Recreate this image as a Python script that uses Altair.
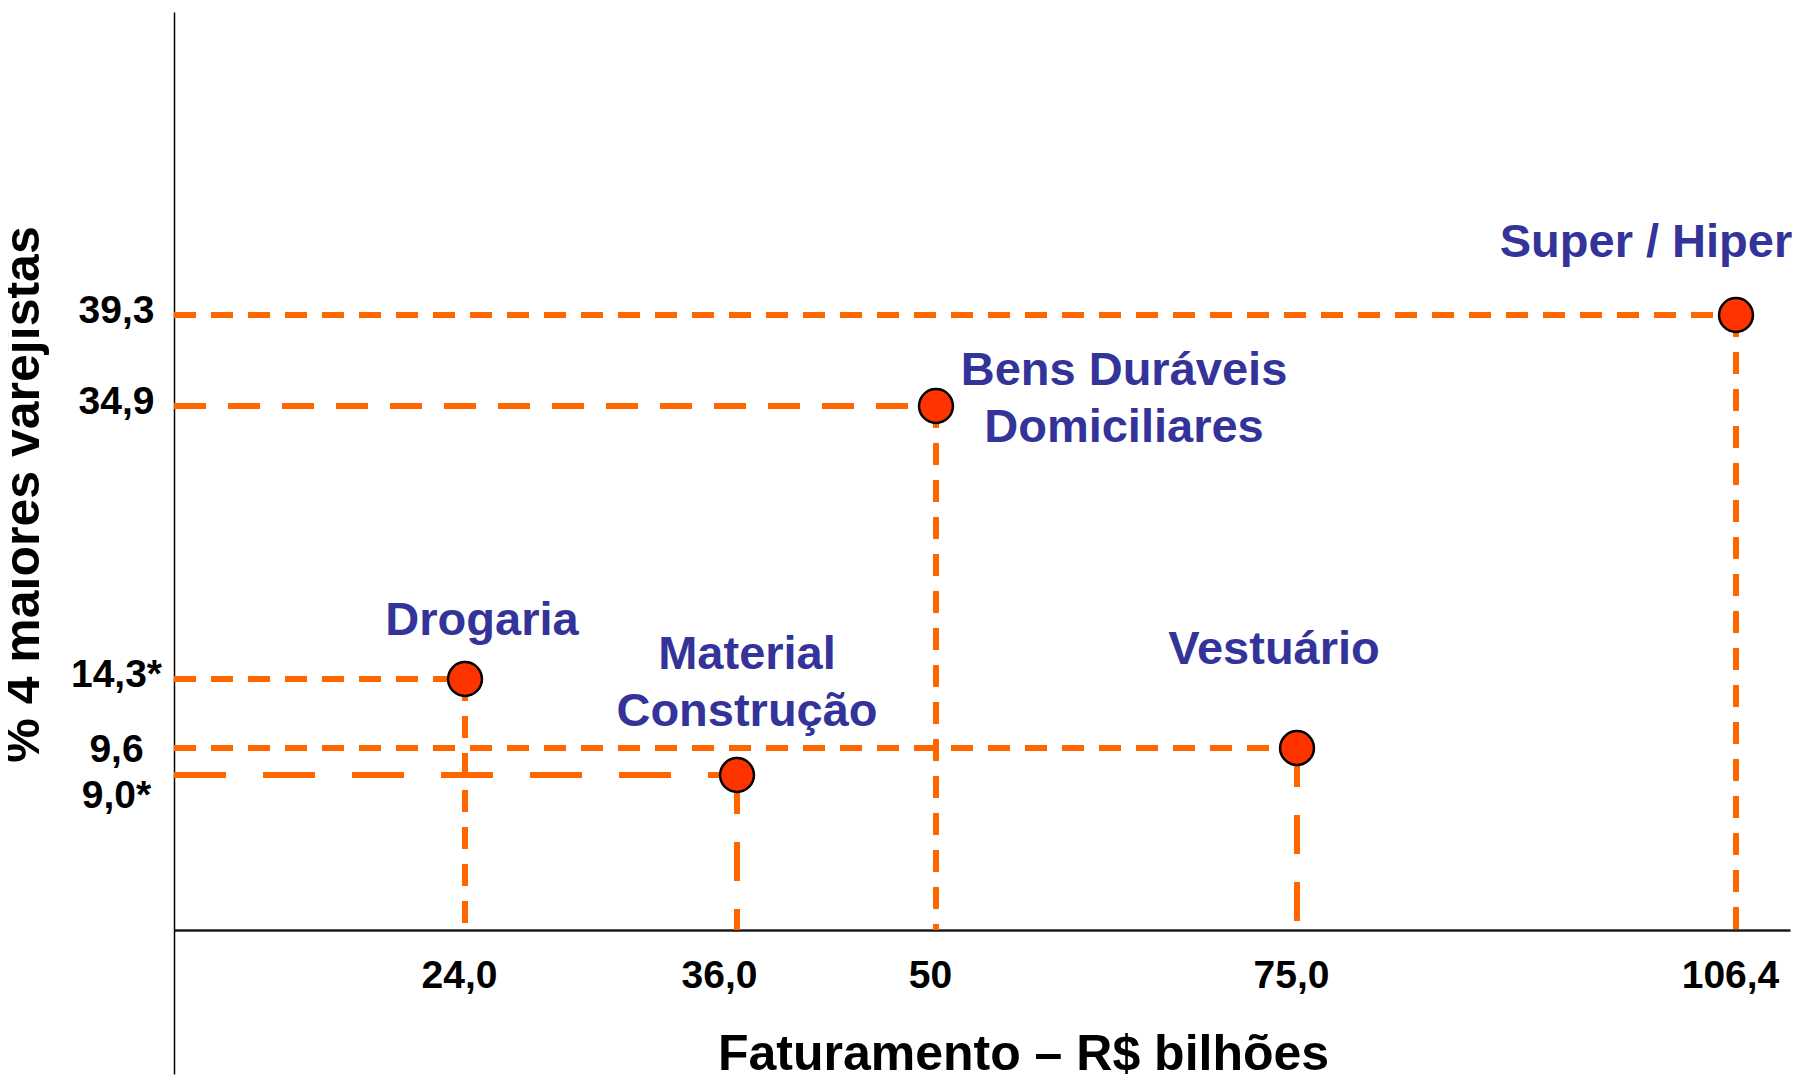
import altair as alt
import pandas as pd

# ---------------- data ----------------
categories = ["Super / Hiper", "Bens Duráveis\nDomiciliares", "Drogaria",
              "Material\nConstrução", "Vestuário"]
faturamento = [106.4, 50.0, 24.0, 36.0, 75.0]      # R$ bilhões
pct_top4 = [39.3, 34.9, 14.3, 9.0, 9.6]             # % 4 maiores varejistas

x_tick_values = [24.0, 36.0, 50.0, 75.0, 106.4]
x_tick_labels = ["24,0", "36,0", "50", "75,0", "106,4"]
y_tick_values = [39.3, 34.9, 14.3, 9.6, 9.0]
y_tick_labels = ["39,3", "34,9", "14,3*", "9,6", "9,0*"]

x_title = "Faturamento – R$ bilhões"
y_title = "% 4 maiores varejistas"

# ---------------- styles / layout ----------------
LINE_COLOR = "#FF6600"
POINT_FILL = "#FF3300"
LABEL_COLOR = "#333399"
FONT = "Liberation Sans"

dash_styles = {"short": [22, 15], "medium": [32, 22], "long": [52, 37], "vlong": [39, 28]}
h_dash = ["short", "medium", "short", "long", "short"]
v_dash = ["short", "short", "short", "vlong", "vlong"]
label_offsets = [(-90, -58), (188, -21), (17, -44), (10, -106), (-23, -84)]

W, H = 1616, 1062
# schematic (piecewise) axes, as in the original slide
x_domain = [0.0, 24.0, 36.0, 50.0, 75.0, 106.4, 110.0]
x_range = [0, 291, 563, 762, 1123, 1562, W]
y_domain = [-8.0, 0.0, 9.0, 9.6, 14.3, 34.9, 39.3, 50.0]
y_range = [H, 918, 763, 736, 667, 394, 303, 0]


def label_expr(values, labels):
    expr = "''"
    for v, l in reversed(list(zip(values, labels))):
        expr = f"abs(datum.value - {v}) < 0.01 ? '{l}' : ({expr})"
    return expr


xscale = alt.Scale(type="linear", domain=x_domain, range=x_range, nice=False, zero=False)
yscale = alt.Scale(type="linear", domain=y_domain, range=y_range, nice=False, zero=False)

xaxis = alt.Axis(
    values=x_tick_values, labelExpr=label_expr(x_tick_values, x_tick_labels),
    title=x_title, orient="bottom", offset=-144,
    domainColor="#1a1a1a", domainWidth=2.5, ticks=False, tickSize=0, grid=False,
    labelFont=FONT, labelFontWeight="bold", labelFontSize=39, labelColor="black",
    labelBaseline="alphabetic", labelPadding=57, labelAlign="center",
    labelFlush=False, labelOverlap=False,
    labelOffset={"condition": {"test": "abs(datum.value - 36) < 0.01", "value": -18}, "value": -6},
    titleFont=FONT, titleFontWeight="bold", titleFontSize=50, titleColor="black",
    titleX=849, titleY=139, titleBaseline="alphabetic", titleAlign="center",
)
yaxis = alt.Axis(
    values=y_tick_values, labelExpr=label_expr(y_tick_values, y_tick_labels),
    title=y_title, orient="left",
    domainColor="black", domainWidth=1.5, ticks=False, tickSize=0, grid=False,
    labelFont=FONT, labelFontWeight="bold", labelFontSize=39, labelColor="black",
    labelBaseline="middle", labelPadding=58, labelAlign="center",
    labelFlush=False, labelOverlap=False,
    labelOffset={"condition": [
        {"test": "abs(datum.value - 9) < 0.01", "value": 20},
        {"test": "abs(datum.value - 9.6) < 0.01", "value": 1},
    ], "value": -5},
    titleFont=FONT, titleFontWeight="bold", titleFontSize=50, titleColor="black",
    titleAngle=270, titleX=-136, titleY=482, titleBaseline="alphabetic", titleAlign="center",
)

points = pd.DataFrame({"i": range(len(categories)), "cat": categories,
                       "fat": faturamento, "pct": pct_top4})

seg_rows = []
for i, (f, p) in enumerate(zip(faturamento, pct_top4)):
    seg_rows.append({"fat": 0.0, "fat2": f, "pct": p, "pct2": p, "dash": h_dash[i]})
    seg_rows.append({"fat": f, "fat2": f, "pct": p, "pct2": 0.0, "dash": v_dash[i]})
segments = pd.DataFrame(seg_rows)

X = alt.X("fat:Q", scale=xscale, axis=xaxis)
Y = alt.Y("pct:Q", scale=yscale, axis=yaxis)

rules = alt.Chart(segments).mark_rule(color=LINE_COLOR, strokeWidth=6, strokeCap="butt").encode(
    x=X, x2="fat2:Q", y=Y, y2="pct2:Q",
    strokeDash=alt.StrokeDash("dash:N", scale=alt.Scale(domain=list(dash_styles.keys()),
                                                          range=list(dash_styles.values())),
                              legend=None),
)

dots = alt.Chart(points).mark_circle(size=1150, color=POINT_FILL, opacity=1,
                                     stroke="black", strokeWidth=2.5).encode(x=X, y=Y)

texts = []
for i, (dx, dy) in enumerate(label_offsets):
    texts.append(
        alt.Chart(points).transform_filter(f"datum.i == {i}").mark_text(
            font=FONT, fontWeight="bold", fontSize=47, color=LABEL_COLOR,
            align="center", baseline="alphabetic", lineBreak="\n", lineHeight=57,
            dx=dx, dy=dy,
        ).encode(x=X, y=Y, text="cat:N")
    )

chart = alt.layer(rules, dots, *texts).properties(
    width=W, height=H, autosize="none",
    padding={"left": 166, "top": 4, "right": 5, "bottom": 3},
    background="white",
).configure_view(stroke=None)

chart.save("out.html", embed_options={"renderer": "svg", "actions": False})
